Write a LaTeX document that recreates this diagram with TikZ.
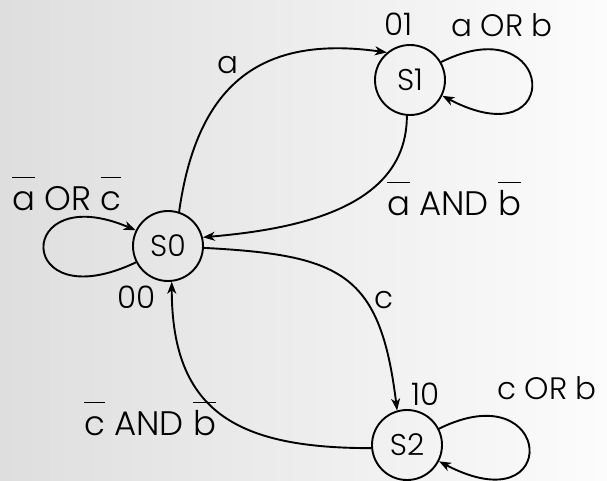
\documentclass[tikz,border=0pt]{standalone}
\usepackage{fontspec}
\setmainfont{Poppins Light}
\usetikzlibrary{arrows.meta}
\definecolor{bgl}{HTML}{DEDEDE}
\definecolor{bgr}{HTML}{FCFCFC}
\newsavebox\ovlbox
\newcommand\ovl[1]{\sbox\ovlbox{#1}\rlap{\rule[0.93em]{\wd\ovlbox}{1.7pt}}\usebox\ovlbox}
\begin{document}
\begin{tikzpicture}[x=1pt,y=1pt,
  state/.style={draw, circle, line width=1.9pt, minimum size=70pt, inner sep=0pt, font=\fontsize{30}{36}\selectfont},
  arr/.style={line width=1.9pt, -{Stealth[length=12pt,width=9pt,inset=3.5pt]}},
  big/.style={font=\fontsize{34}{40}\selectfont, inner sep=0pt, anchor=base west},
  small/.style={font=\fontsize{31}{36}\selectfont, inner sep=0pt, anchor=base west}]
\shade[left color=bgl, right color=bgr] (0,0) rectangle (607,-480);
\useasboundingbox (0,0) rectangle (607,-480);

\node[state] (S0) at (168,-246) {S0};
\node[state] (S1) at (410,-80) {S1};
\node[state] (S2) at (407,-445) {S2};

\draw[arr] (S0.72) to[out=82,in=172,looseness=1.25] (S1.130);
\draw[arr] (S1.265) to[out=270,in=5] (S0.14);
\draw[arr] (S0.-3) to[out=-3,in=97,looseness=1.4] (S2.106);
\draw[arr] (S2.185) to[out=180,in=-90,looseness=1.3] (S0.-84);

\draw[arr] (S1.30) .. controls +(115,57) and +(124,-65) .. (S1.-26);
\draw[arr] (S2.27) .. controls +(115,57) and +(124,-65) .. (S2.-27);
\draw[arr] (S0.207) .. controls +(-122,-58) and +(-122,52) .. (S0.154);

\node[small] (l01) at (384,-35) {01};
\node[small] (lab) at (451,-36) {a OR b};
\node[small] (la) at (217,-73) {a};
\node[big] (lnanb) at (387,-215) {\ovl{a} AND \ovl{b}};
\node[big] (lnaoc) at (12,-210) {\ovl{a} OR \ovl{c}};
\node[small] (l00) at (117,-308) {00};
\node[small] (lc) at (374,-308) {c};
\node[small] (l10) at (411,-405) {10};
\node[small] (lcb) at (497,-399) {c OR b};
\node[big] (lncnb) at (84,-435) {\ovl{c} AND \ovl{b}};
\end{tikzpicture}
\end{document}
